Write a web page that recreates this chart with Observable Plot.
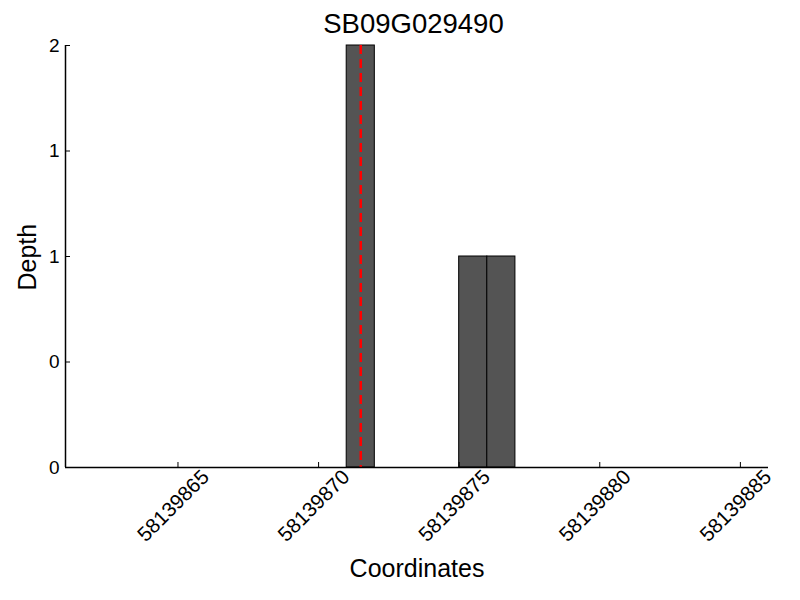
<!DOCTYPE html>
<html>
<head>
<meta charset="utf-8">
<script src="https://cdn.jsdelivr.net/npm/d3@7"></script>
<script src="https://cdn.jsdelivr.net/npm/@observablehq/plot@0.6"></script>
<style>
  body { margin: 0; background: white; font-family: "Liberation Sans", Arial, sans-serif; }
  #title { box-sizing: border-box; width: 800px; height: 35px; padding-top: 10px; padding-left: 27px;
           text-align: center; font-size: 27.5px; line-height: 1; color: black; white-space: nowrap; }
</style>
</head>
<body>
<div id="title"></div>
<div id="chart"></div>
<script>
const chartTitle = "SB09G029490";
const xLabel = "Coordinates";
const yLabel = "Depth";
const positions = [58139871, 58139875, 58139876];
const depths = [2, 1, 1];
const markerPositions = [58139871.5];
const xDomain = [58139861, 58139886];
const yDomain = [0, 2];
const xTicks = [58139865, 58139870, 58139875, 58139880, 58139885];
const yTicks = [0, 0.5, 1, 1.5, 2];

document.getElementById("title").textContent = chartTitle;

const bars = positions.map((p, i) => ({x1: p, x2: p + 1, depth: depths[i]}));

const chart = Plot.plot({
  width: 800,
  height: 565,
  marginTop: 10,
  marginBottom: 133,
  marginLeft: 65,
  marginRight: 32,
  style: {fontFamily: "'Liberation Sans', Arial, sans-serif", background: "white", overflow: "visible", color: "black"},
  x: {domain: xDomain, axis: null},
  y: {domain: yDomain, axis: null},
  marks: [
    Plot.rectY(bars, {x1: "x1", x2: "x2", y: "depth", fill: "#545454", stroke: "black", strokeWidth: 1}),
    Plot.ruleX(markerPositions, {x: d => d, stroke: "red", strokeWidth: 2.5, strokeDasharray: "9,5"}),
    Plot.ruleX([xDomain[0]], {stroke: "black", strokeWidth: 1.5}),
    Plot.ruleY([yDomain[0]], {stroke: "black", strokeWidth: 1.5}),
    Plot.ruleX(xTicks, {x: d => d, y1: yDomain[0], y2: yDomain[0], insetTop: -5, stroke: "black", strokeWidth: 1}),
    Plot.ruleY(yTicks, {y: d => d, x1: xDomain[0], x2: xDomain[0], insetRight: -5, stroke: "black", strokeWidth: 1}),
    Plot.text(xTicks, {x: d => d, frameAnchor: "bottom", dy: 43, rotate: -45, text: d => String(d), fontSize: 20.5}),
    Plot.text(yTicks, {y: d => d, frameAnchor: "left", dx: -6, textAnchor: "end", text: d => String(Math.floor(d)), fontSize: 19}),
    Plot.text([xLabel], {frameAnchor: "bottom", dy: 109, lineAnchor: "bottom", text: d => d, fontSize: 25}),
    Plot.text([yLabel], {frameAnchor: "left", dx: -30, dy: 34, rotate: -90, lineAnchor: "bottom", text: d => d, fontSize: 25})
  ]
});
document.getElementById("chart").appendChild(chart);
</script>
</body>
</html>
